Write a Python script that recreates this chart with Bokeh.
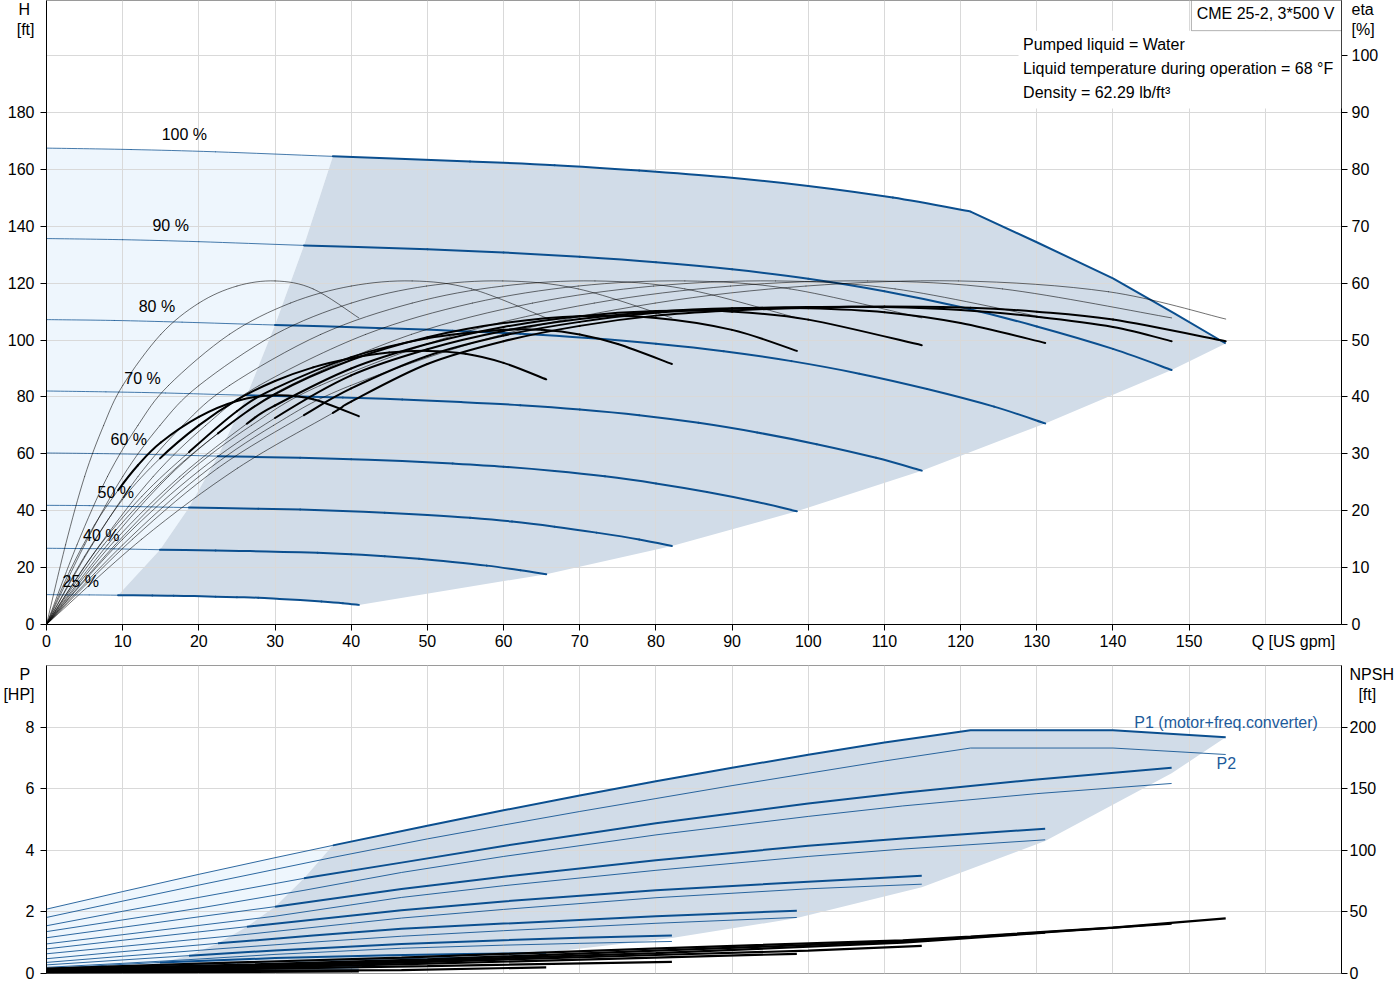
from bokeh.plotting import figure
from bokeh.models import Range1d, LinearAxis, FixedTicker, Label, BoxAnnotation
from bokeh.layouts import column
from bokeh.embed import file_html
from bokeh.resources import INLINE

# ---- data ----
speed_labels = ["25 %", "40 %", "50 %", "60 %", "70 %", "80 %", "90 %", "100 %"]
q_start = [9.4, 14.9, 18.7, 22.5, 26.3, 30.0, 33.8, 37.6]   # start of the operating range
label_q = [4.5, 7.2, 9.1, 10.8, 12.6, 14.5, 16.3, 18.1]
label_h = [15.1, 31.3, 46.4, 65.0, 86.5, 111.8, 140.3, 172.3]
power_limit_q = 121.3   # the 100 % curve is power limited above this flow

# H(Q) curves [US gpm] -> [ft]
h_q = [
    [0, 2.8, 5.6, 9.4, 13.9, 16.7, 19.4, 22.2, 25.0, 27.8, 30.6, 33.3, 36.1, 38.9, 41.0],
    [0, 4.4, 8.9, 14.9, 22.2, 26.7, 31.1, 35.6, 40.0, 44.4, 48.9, 53.3, 57.8, 62.2, 65.6],
    [0, 5.6, 11.1, 18.7, 27.8, 33.3, 38.9, 44.4, 50.0, 55.6, 61.1, 66.7, 72.2, 77.8, 82.1],
    [0, 6.7, 13.3, 22.5, 33.3, 40.0, 46.7, 53.3, 60.0, 66.7, 73.3, 80.0, 86.7, 93.3, 98.5],
    [0, 7.8, 15.6, 26.3, 38.9, 46.7, 54.4, 62.2, 70.0, 77.8, 85.6, 93.3, 101.1, 108.9, 114.9],
    [0, 8.9, 17.8, 30.0, 44.4, 53.3, 62.2, 71.1, 80.0, 88.9, 97.8, 106.7, 115.6, 124.4, 131.1],
    [0, 10, 20, 33.8, 50, 60, 70, 80, 90, 100, 110, 120, 130, 140, 147.7],
    [0, 11.1, 22.2, 37.6, 55.6, 66.7, 77.8, 88.9, 100, 111.1, 121.3, 130, 140, 148, 154.8],
]
h_ft = [
    [10.5, 10.4, 10.4, 10.3, 10.2, 10.1, 10.0, 9.8, 9.6, 9.4, 9.0, 8.6, 8.1, 7.5, 6.9],
    [26.8, 26.7, 26.6, 26.3, 26.0, 25.8, 25.5, 25.2, 24.7, 24.0, 23.1, 22.0, 20.7, 19.1, 17.7],
    [41.9, 41.8, 41.5, 41.1, 40.7, 40.4, 39.9, 39.3, 38.5, 37.5, 36.2, 34.4, 32.3, 29.9, 27.6],
    [60.3, 60.1, 59.8, 59.2, 58.6, 58.1, 57.5, 56.6, 55.5, 54.0, 52.1, 49.6, 46.6, 43.1, 39.8],
    [82.1, 81.8, 81.4, 80.6, 79.8, 79.1, 78.2, 77.1, 75.6, 73.6, 70.9, 67.5, 63.4, 58.6, 54.1],
    [107.2, 106.9, 106.3, 105.3, 104.2, 103.3, 102.2, 100.7, 98.7, 96.1, 92.6, 88.2, 82.8, 76.6, 70.7],
    [135.7, 135.3, 134.6, 133.3, 131.9, 130.8, 129.3, 127.4, 124.9, 121.6, 117.2, 111.6, 104.8, 96.9, 89.5],
    [167.5, 167.0, 166.2, 164.6, 162.8, 161.5, 159.6, 157.3, 154.2, 150.1, 145.2, 134.4, 121.7, 109.5, 98.8],
]

# pump efficiency (thin curves) [%]
eta_p_q = [
    [0, 2.5, 5, 7.5, 10, 15, 20, 25, 30, 35, 41.0],
    [0, 4.0, 8.0, 12.0, 16.0, 24.0, 32.0, 40.0, 48.0, 55.8, 65.6],
    [0, 5.0, 10.0, 14.9, 20.0, 30.0, 40.0, 49.9, 59.9, 69.8, 82.1],
    [0, 6.0, 12.0, 17.9, 24.0, 36.0, 48.0, 59.9, 72.0, 83.8, 98.5],
    [0, 7.0, 14.0, 20.9, 27.9, 41.9, 55.9, 69.8, 83.8, 97.6, 114.9],
    [0, 8.0, 16.0, 23.9, 31.9, 47.9, 63.8, 79.7, 95.7, 111.4, 131.1],
    [0, 9.0, 18.0, 26.9, 35.9, 53.9, 71.9, 89.8, 107.8, 125.5, 147.7],
    [0, 10.0, 20.0, 29.8, 39.9, 59.9, 79.9, 99.7, 119.7, 139.4, 154.8],
]
eta_p = [
    [0, 14, 26, 35, 42, 51, 56.5, 59.5, 60.4, 59.0, 53.9],
    [0, 14, 26, 35, 42, 51, 56.5, 59.5, 60.4, 59.0, 53.9],
    [0, 14, 26, 35, 42, 51, 56.5, 59.5, 60.4, 59.0, 53.9],
    [0, 14, 26, 35, 42, 51, 56.5, 59.5, 60.4, 59.0, 53.9],
    [0, 14, 26, 35, 42, 51, 56.5, 59.5, 60.4, 59.0, 53.9],
    [0, 14, 26, 35, 42, 51, 56.5, 59.5, 60.4, 59.0, 53.9],
    [0, 14, 26, 35, 42, 51, 56.5, 59.5, 60.4, 59.0, 53.9],
    [0, 14, 26, 35, 42, 51, 56.5, 59.5, 60.4, 58.5, 53.7],
]

# total efficiency (thick inside the operating range) [%]
eta_t_q = [
    [0, 3.1, 6.3, 9.4, 12, 15, 20, 25, 30, 35, 41.0],
    [0, 5.0, 10.0, 14.9, 20, 25, 30, 35, 40, 45, 50, 55, 60, 65.6],
    [0, 6.2, 12.5, 18.7, 25, 30, 40, 50, 60, 65, 70, 75, 82.1],
    [0, 7.5, 15.0, 22.5, 30, 40, 50, 60, 70, 80, 90, 98.5],
    [0, 8.8, 17.5, 26.3, 30, 40, 50, 60, 70, 80, 90, 100, 114.9],
    [0, 10, 20, 30.0, 40, 50, 60, 70, 80, 90, 100, 110, 120, 131.1],
    [0, 11.3, 22.5, 33.8, 40, 50, 60, 70, 80, 90, 100, 110, 120, 130, 140, 147.7],
    [0, 12.5, 25.1, 37.6, 40, 50, 60, 70, 80, 90, 100, 110, 121.3, 130, 140, 154.8],
]
eta_t = [
    [0, 9.5, 17.5, 23.6, 28, 32, 36.5, 39.3, 40.3, 39.6, 36.6],
    [0, 12, 22, 29.2, 35, 39.5, 42.8, 45.2, 46.8, 47.8, 48.1, 47.6, 46.0, 43.1],
    [0, 12.5, 22.5, 30.3, 37.5, 41.5, 47.0, 50.3, 51.8, 51.8, 51.0, 49.3, 45.8],
    [0, 14, 25, 33.6, 40.5, 46.5, 50.5, 53.0, 54.2, 53.9, 51.8, 48.1],
    [0, 14.5, 26, 35.3, 38.5, 45.0, 49.3, 52.3, 54.2, 55.1, 55.0, 53.6, 49.1],
    [0, 15, 27, 36.3, 43.8, 48.4, 51.6, 53.7, 55.0, 55.6, 55.6, 54.9, 53.0, 49.5],
    [0, 15, 27.5, 36.8, 41.5, 47.2, 50.8, 53.2, 54.8, 55.5, 55.8, 55.8, 55.3, 54.1, 52.3, 49.8],
    [0, 15, 27.5, 37.2, 39.2, 45.8, 49.8, 52.5, 54.3, 55.2, 55.7, 55.9, 55.7, 55.0, 53.6, 49.8],
]

# power curves [HP]
p_q = [
    [0, 9.4, 20, 30, 41.0],
    [0, 8, 14.9, 30, 45, 55, 65.6],
    [0, 10, 18.7, 30, 46.6, 60, 70, 82.1],
    [0, 10, 22.5, 35, 46.6, 60, 80, 98.5],
    [0, 10, 20, 26.3, 46.6, 60, 80, 100, 114.9],
    [0, 10, 20, 30.0, 46.6, 60, 80, 100, 112.4, 131.1],
    [0, 10, 20, 33.8, 46.6, 60, 80, 100, 112.4, 130, 147.7],
    [0, 10, 20, 30, 37.6, 50, 60, 70, 80, 90, 100, 110, 121.3, 140, 154.8],
]
p1_hp = [
    [0.05, 0.10, 0.14, 0.17, 0.20],
    [0.15, 0.27, 0.36, 0.50, 0.59, 0.63, 0.67],
    [0.28, 0.44, 0.58, 0.75, 0.96, 1.08, 1.16, 1.23],
    [0.48, 0.71, 0.98, 1.23, 1.45, 1.62, 1.86, 2.04],
    [0.80, 1.08, 1.35, 1.52, 2.05, 2.34, 2.70, 2.98, 3.17],
    [1.16, 1.50, 1.84, 2.17, 2.74, 3.14, 3.68, 4.15, 4.38, 4.70],
    [1.55, 2.02, 2.47, 3.09, 3.60, 4.14, 4.88, 5.52, 5.87, 6.30, 6.68],
    [2.09, 2.66, 3.22, 3.76, 4.16, 4.80, 5.30, 5.78, 6.24, 6.68, 7.10, 7.50, 7.90, 7.90, 7.67],
]
p2_hp = [
    [0.03, 0.06, 0.08, 0.10, 0.12],
    [0.10, 0.19, 0.26, 0.39, 0.48, 0.52, 0.56],
    [0.20, 0.33, 0.45, 0.62, 0.82, 0.92, 0.98, 1.04],
    [0.36, 0.56, 0.80, 1.02, 1.21, 1.39, 1.63, 1.82],
    [0.64, 0.88, 1.12, 1.27, 1.80, 2.08, 2.46, 2.75, 2.90],
    [0.96, 1.26, 1.56, 1.86, 2.47, 2.85, 3.35, 3.80, 4.04, 4.34],
    [1.36, 1.74, 2.12, 2.70, 3.28, 3.80, 4.50, 5.10, 5.44, 5.84, 6.17],
    [1.82, 2.35, 2.87, 3.38, 3.77, 4.37, 4.82, 5.26, 5.68, 6.10, 6.50, 6.90, 7.32, 7.32, 7.11],
]
# right edge of the shaded power area
p_edge_q = [154.8, 147.7, 131.1, 114.9, 98.5, 82.1, 65.6, 41.0]
p_edge_hp = [7.67, 6.50, 4.30, 2.80, 1.80, 1.15, 0.68, 0.20]

# NPSH curves [ft]
npsh_q = [
    [0, 20, 41.0],
    [0, 25, 46.6, 65.6],
    [0, 25, 50, 82.1],
    [0, 25, 50, 75, 98.5],
    [0, 25, 50, 80, 100, 114.9],
    [0, 25, 50, 80, 112.4, 131.1],
    [0, 25, 50, 80, 112.4, 130, 147.7],
    [0, 20, 46.6, 79.5, 112.4, 121.3, 140, 154.8],
]
npsh_ft = [
    [0.5, 1.0, 1.8],
    [1.0, 2.2, 2.8, 5.0],
    [1.5, 3.5, 6.0, 9.5],
    [2.0, 4.5, 8.0, 12.0, 16.0],
    [2.5, 5.5, 9.5, 15.0, 18.5, 22.5],
    [3.0, 6.5, 10.5, 16.5, 25.0, 33.2],
    [3.5, 7.0, 11.5, 18.5, 26.0, 33.0, 40.4],
    [4.0, 8.0, 12.9, 20.2, 27.0, 30.0, 37.2, 44.7],
]

q_ticks = [0, 10, 20, 30, 40, 50, 60, 70, 80, 90, 100, 110, 120, 130, 140, 150]
q_grid = q_ticks + [160, 170]
h_ticks = [0, 20, 40, 60, 80, 100, 120, 140, 160, 180]
h_grid = h_ticks + [200]
eta_ticks = [0, 10, 20, 30, 40, 50, 60, 70, 80, 90, 100]
p_ticks = [0, 2, 4, 6, 8]
npsh_ticks = [0, 50, 100, 150, 200]

# axis titles sit in the tick label columns: (position on the axis, text)
q_title = (163.7, "Q [US gpm]")
h_title = (213.8, "H\u00a0\n[ft]")
eta_title = (106.9, "eta\n[%]")
p_title = (9.46, "P\u00a0\n[HP]")
npsh_title = (236.5, "NPSH\n\u00a0\u00a0[ft]")

info_lines = ["Pumped liquid = Water",
              "Liquid temperature during operation = 68 \u00b0F",
              "Density = 62.29 lb/ft\u00b3"]

BLUE = "#0b4f8f"
DARK_FILL = "#d1dce8"
LIGHT_FILL = "#eef6fd"
GRID = "#d9d9d9"
FONT = "Liberation Sans"
FS = "16px"

Q_MAX = 170
H_MAX = 219.4
P_MAX = 10


def part(q, v, lo, hi):
    pts = [(a, b) for a, b in zip(q, v) if lo <= a <= hi]
    return [a for a, _ in pts], [b for _, b in pts]


def at(q, v, x):
    return v[q.index(x)]


def smooth(fig, q, v, qs=-1, thin=0.8, thick=2.0, thin_alpha=0.7, color="black", **kw):
    """draw the read points as a smooth (catmull-rom) bezier path,
    thin before qs and thick from qs on"""
    n = len(q)
    d = dict(x0=[], y0=[], x1=[], y1=[], cx0=[], cy0=[], cx1=[], cy1=[], w=[], a=[])
    for i in range(n - 1):
        ia, ib = max(i - 1, 0), min(i + 2, n - 1)
        d["x0"].append(q[i]); d["y0"].append(v[i])
        d["x1"].append(q[i + 1]); d["y1"].append(v[i + 1])
        d["cx0"].append(q[i] + (q[i + 1] - q[ia]) / 6)
        d["cy0"].append(v[i] + (v[i + 1] - v[ia]) / 6)
        d["cx1"].append(q[i + 1] - (q[ib] - q[i]) / 6)
        d["cy1"].append(v[i + 1] - (v[ib] - v[i]) / 6)
        is_thick = qs >= 0 and q[i] >= qs
        d["w"].append(thick if is_thick else thin)
        d["a"].append(1.0 if is_thick else thin_alpha)
    fig.bezier(x0="x0", y0="y0", x1="x1", y1="y1", cx0="cx0", cy0="cy0",
               cx1="cx1", cy1="cy1", line_width="w", line_alpha="a",
               line_color=color, line_cap="round", source=d, **kw)


def tick_axis(ax, ticks):
    """axis line and tick marks only"""
    ax.ticker = FixedTicker(ticks=ticks)
    ax.axis_line_color = "black"
    ax.major_tick_line_color = "black"
    ax.major_tick_out = 6
    ax.major_tick_in = 0
    ax.minor_tick_line_color = None
    ax.major_label_overrides = {t: "" for t in ticks}
    ax.major_label_text_font_size = "1px"
    ax.major_label_standoff = 0


def label_axis(ax, ticks, title, standoff=6):
    """tick labels plus the axis title, no line or marks"""
    ax.ticker = FixedTicker(ticks=ticks + [title[0]])
    ax.major_label_overrides = {title[0]: title[1]}
    ax.axis_line_color = None
    ax.major_tick_line_color = None
    ax.minor_tick_line_color = None
    ax.major_tick_out = 0
    ax.major_tick_in = 0
    ax.major_label_text_font = FONT
    ax.major_label_text_font_size = FS
    ax.major_label_text_color = "black"
    ax.major_label_standoff = standoff


def text(fig, x, y, s, xo=0, yo=0, align="center", base="top", color="black"):
    # y_offset is a screen offset, positive = up
    fig.add_layout(Label(x=x, y=y, x_offset=xo, y_offset=yo, text=s,
                         text_align=align, text_baseline=base, text_color=color,
                         text_font=FONT, text_font_size=FS))


def fill_polygons(curves_q, curves_v, right_q, right_v):
    """dark (operating) and light areas built from the curves"""
    top_q, top_v = part(curves_q[-1], curves_v[-1], q_start[-1], 1e9)
    lo_q, lo_v = part(curves_q[0], curves_v[0], q_start[0], 1e9)
    starts_v = [at(curves_q[i], curves_v[i], q_start[i]) for i in range(len(q_start))]
    dark_x = top_q + right_q[1:] + lo_q[::-1][1:] + q_start[1:-1]
    dark_y = top_v + right_v[1:] + lo_v[::-1][1:] + starts_v[1:-1]
    lt_q, lt_v = part(curves_q[-1], curves_v[-1], 0, q_start[-1])
    ll_q, ll_v = part(curves_q[0], curves_v[0], 0, q_start[0])
    light_x = lt_q + q_start[::-1][1:] + ll_q[::-1][1:]
    light_y = lt_v + starts_v[::-1][1:] + ll_v[::-1][1:]
    return (dark_x, dark_y), (light_x, light_y)


# ---------------- top: H and eta ----------------
p = figure(frame_width=1295, frame_height=624, x_range=Range1d(0, Q_MAX),
           y_range=Range1d(0, H_MAX), output_backend="svg", toolbar_location=None,
           min_border_left=45, min_border_right=52, min_border_top=0, min_border_bottom=41,
           background_fill_color="white", outline_line_color="#9a9a9a")
p.extra_y_ranges = {"eta": Range1d(0, H_MAX / 2)}

tick_axis(p.xaxis[0], q_ticks)
qx = LinearAxis()
label_axis(qx, q_ticks, q_title, standoff=2)
p.add_layout(qx, "below")

tick_axis(p.yaxis[0], h_ticks)
hy = LinearAxis()
label_axis(hy, h_ticks, h_title)
p.add_layout(hy, "left")

eta_ticks_ax = LinearAxis(y_range_name="eta")
tick_axis(eta_ticks_ax, eta_ticks)
p.add_layout(eta_ticks_ax, "right")
eta_lab = LinearAxis(y_range_name="eta")
label_axis(eta_lab, eta_ticks, eta_title, standoff=4)
p.add_layout(eta_lab, "right")

p.xgrid.ticker = FixedTicker(ticks=q_grid)
p.ygrid.ticker = FixedTicker(ticks=h_grid)
p.grid.grid_line_color = GRID

h_right_q = [h_q[i][-1] for i in range(7, -1, -1)]
h_right_v = [h_ft[i][-1] for i in range(7, -1, -1)]
(dx, dy), (lx, ly) = fill_polygons(h_q, h_ft, h_right_q, h_right_v)
p.patch(lx, ly, fill_color=LIGHT_FILL, line_color=None, level="image")
p.patch(dx, dy, fill_color=DARK_FILL, line_color=None, level="image")

for i in range(8):
    if i == 7:
        sq, sv = part(h_q[i], h_ft[i], 0, power_limit_q)
        smooth(p, sq, sv, q_start[i], thin=1, thick=2, thin_alpha=0.75, color=BLUE)
        lq, lv = part(h_q[i], h_ft[i], power_limit_q, 1e9)
        p.line(lq, lv, color=BLUE, line_width=2)
    else:
        smooth(p, h_q[i], h_ft[i], q_start[i], thin=1, thick=2, thin_alpha=0.75, color=BLUE)

for i in range(8):
    smooth(p, eta_p_q[i], eta_p[i], y_range_name="eta")
    smooth(p, eta_t_q[i], eta_t[i], q_start[i], y_range_name="eta")

for s, x, y in zip(speed_labels, label_q, label_h):
    text(p, x, y, s, base="middle")

# white area behind the fluid info and the product box
p.add_layout(BoxAnnotation(left=127.6, right=Q_MAX, bottom=181.4, top=208.8,
                           fill_color="white", fill_alpha=1, line_color=None))
p.add_layout(BoxAnnotation(left=150.3, right=Q_MAX, bottom=208.8, top=H_MAX,
                           fill_color="white", fill_alpha=1, line_color="black",
                           line_width=1))
text(p, Q_MAX, H_MAX, "CME 25-2, 3*500 V", xo=-7, yo=-4, align="right")
for k, line in enumerate(info_lines):
    text(p, 128.2, 203.9 - 8.4 * k, line, align="left", base="middle")

# ---------------- bottom: P and NPSH ----------------
p2 = figure(frame_width=1295, frame_height=308, x_range=p.x_range,
            y_range=Range1d(0, P_MAX), output_backend="svg", toolbar_location=None,
            min_border_left=45, min_border_right=52, min_border_top=0, min_border_bottom=8,
            background_fill_color="white", outline_line_color="#9a9a9a")
p2.extra_y_ranges = {"npsh": Range1d(0, P_MAX * 25)}
p2.xaxis.visible = False

tick_axis(p2.yaxis[0], p_ticks)
py = LinearAxis()
label_axis(py, p_ticks, p_title)
p2.add_layout(py, "left")

npsh_ticks_ax = LinearAxis(y_range_name="npsh")
tick_axis(npsh_ticks_ax, npsh_ticks)
p2.add_layout(npsh_ticks_ax, "right")
npsh_lab = LinearAxis(y_range_name="npsh")
label_axis(npsh_lab, npsh_ticks, npsh_title, standoff=2)
p2.add_layout(npsh_lab, "right")

p2.xgrid.ticker = FixedTicker(ticks=q_grid)
p2.ygrid.ticker = FixedTicker(ticks=p_ticks)
p2.grid.grid_line_color = GRID

(dx, dy), (lx, ly) = fill_polygons(p_q, p1_hp, p_edge_q, p_edge_hp)
p2.patch(lx, ly, fill_color=LIGHT_FILL, line_color=None, level="image")
p2.patch(dx, dy, fill_color=DARK_FILL, line_color=None, level="image")

for i in range(8):
    p2.line(p_q[i], p2_hp[i], color=BLUE, line_width=1, line_alpha=0.85)
    tq, tv = part(p_q[i], p1_hp[i], 0, q_start[i])
    p2.line(tq, tv, color=BLUE, line_width=1, line_alpha=0.85)
    kq, kv = part(p_q[i], p1_hp[i], q_start[i], 1e9)
    p2.line(kq, kv, color=BLUE, line_width=2)

for i in range(8):
    p2.line(npsh_q[i], npsh_ft[i], color="black", line_width=2.2, y_range_name="npsh")

text(p2, 142.8, 8.16, "P1 (motor+freq.converter)", align="left", base="middle", color="#1d5b9b")
text(p2, 153.6, 6.83, "P2", align="left", base="middle", color="#1d5b9b")

layout = column(p, p2)
open("out.html", "w").write(file_html(layout, INLINE))
